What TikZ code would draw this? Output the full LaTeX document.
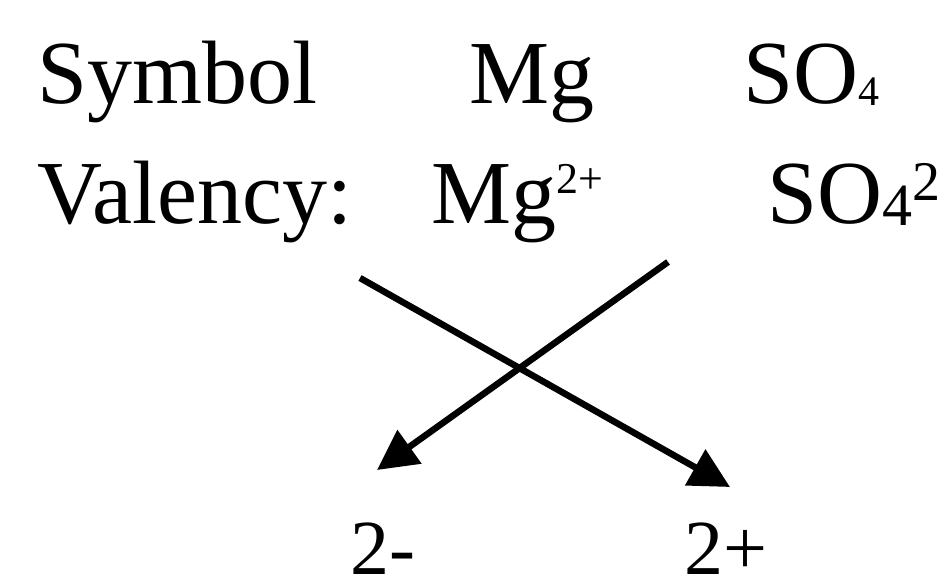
\documentclass[tikz,border=0pt]{standalone}
\usepackage{fontspec}
\setmainfont{Liberation Serif}
\usetikzlibrary{arrows.meta}
\begin{document}
\begin{tikzpicture}[x=1pt, y=-1pt, every node/.style={inner sep=0pt, anchor=base west, font=\fontsize{90}{108}\selectfont}]
            \useasboundingbox (0,0) rectangle (948,586);
            % Rows
            \node (sym) at (37,103) {Symbol};
            \node (mg) at (469,103) {Mg};
            \node (so) at (743,103) {SO\raisebox{-2pt}{\fontsize{42}{42}\selectfont 4}};
            \node (val) at (37,223) {Valency:};
            \node (mgion) at (431,223) {Mg\raisebox{30pt}{\fontsize{44}{44}\selectfont 2+}};
            \node (soion) at (767,223) {SO\raisebox{-2pt}{\fontsize{60}{60}\selectfont 4}\raisebox{23pt}{\fontsize{56}{56}\selectfont 2}};
            % Cross-over
            \coordinate (a) at (360,278);
            \coordinate (b) at (730,487);
            \coordinate (c) at (668,262);
            \coordinate (d) at (377,470);
            \draw[line width=6.5pt, -{Triangle[length=40pt,width=40pt]}] (a) -- (b);
            \draw[line width=6.5pt, -{Triangle[length=40pt,width=40pt]}] (c) -- (d);
            % Label
            \node[font=\fontsize{78}{90}\selectfont] (minus) at (350,574) {2-};
            \node[font=\fontsize{78}{90}\selectfont] (plus) at (684,574) {2+};
          \end{tikzpicture}
\end{document}
